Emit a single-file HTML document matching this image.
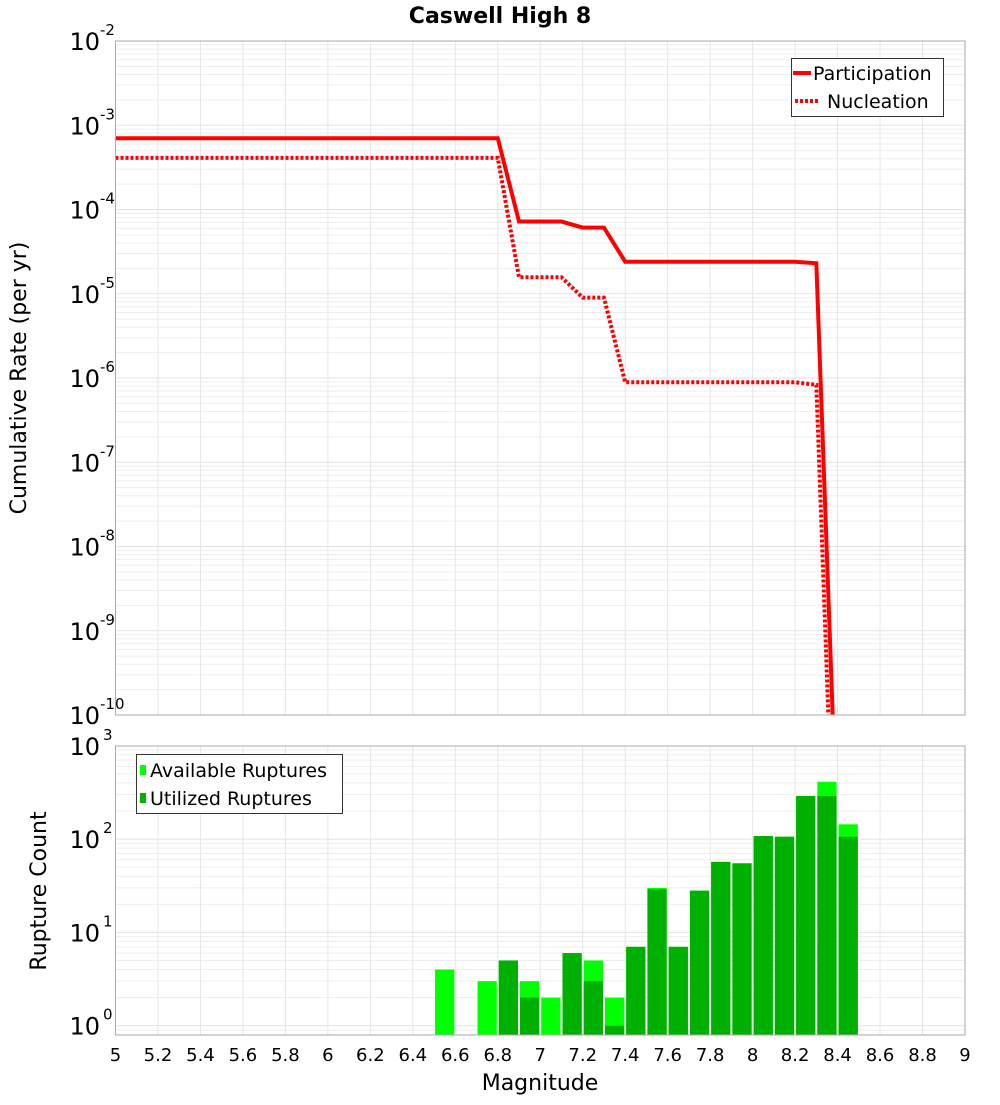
<!DOCTYPE html>
<html><head><meta charset="utf-8"><style>
body{margin:0;background:#fff;}
svg{font-family:"DejaVu Sans","Liberation Sans",sans-serif;}
</style></head><body>
<svg id="c" width="1000" height="1100" xmlns="http://www.w3.org/2000/svg">
<text x="500" y="23" text-anchor="middle" font-size="22" font-weight="bold">Caswell High 8</text>
<text transform="translate(26,378) rotate(-90)" text-anchor="middle" font-size="22">Cumulative Rate (per yr)</text>
<text transform="translate(46,891) rotate(-90)" text-anchor="middle" font-size="22">Rupture Count</text>
<text x="540" y="1090" text-anchor="middle" font-size="22">Magnitude</text>
<g id="topg"></g><g id="botg"></g>
</svg>
<script>
const partMags=[5,6.8,6.9,7.1,7.2,7.3,7.4,8.2,8.3,8.4];
const partVals=[7e-4,7e-4,7.2e-5,7.2e-5,6.1e-5,6.1e-5,2.4e-5,2.4e-5,2.3e-5,2.5e-12];
const nuclMags=[5,6.8,6.9,7.1,7.2,7.3,7.4,8.2,8.3,8.4];
const nuclVals=[4.1e-4,4.1e-4,1.57e-5,1.57e-5,9e-6,9e-6,8.9e-7,8.9e-7,8.3e-7,1e-13];
const binMags=[6.5,6.6,6.7,6.8,6.9,7.0,7.1,7.2,7.3,7.4,7.5,7.6,7.7,7.8,7.9,8.0,8.1,8.2,8.3,8.4];
const availCounts=[4,0,3,5,3,2,6,5,2,7,30,7,28,57,55,108,106,290,412,144];
const utilCounts=[0,0,0,5,2,0,6,3,1,7,29,7,28,57,55,108,106,290,290,106];
const xTicks=[5,5.2,5.4,5.6,5.8,6,6.2,6.4,6.6,6.8,7,7.2,7.4,7.6,7.8,8,8.2,8.4,8.6,8.8,9];
const xTickLabels=["5","5.2","5.4","5.6","5.8","6","6.2","6.4","6.6","6.8","7","7.2","7.4","7.6","7.8","8","8.2","8.4","8.6","8.8","9"];
const topExps=[-2,-3,-4,-5,-6,-7,-8,-9,-10];
const botExps=[3,2,1,0];

const NS="http://www.w3.org/2000/svg";
const L=115.5,R=965;
const X=m=>L+(m-5)*(R-L)/4;
const TT=41,TB=715;
const YT=v=>TT+(-2-Math.log10(v))*(TB-TT)/8;
const BT=746,BB=1035;
const dec=93.3,zero=1025.7;
const YB=v=>zero-Math.log10(Math.max(v,1e-3))*dec;
function el(p,t,a){const e=document.createElementNS(NS,t);for(const k in a)e.setAttribute(k,a[k]);p.appendChild(e);return e;}
const topG=document.getElementById('topg'),botG=document.getElementById('botg');

function grid(g,yf,lo,hi,yT,yB){
  for(let e=lo;e<hi;e++)for(let k=1;k<10;k++){const y=yf(k*Math.pow(10,e));if(y<yT-0.5||y>yB+0.5)continue;
    const ln=el(g,'line',{x1:L,x2:R,y1:y,y2:y,stroke:k==1?'#e2e2e2':'#ededed','stroke-width':1});
    
    }
  xTicks.forEach(m=>{const ln=el(g,'line',{x1:X(m),x2:X(m),y1:yT,y2:yB,stroke:'#e6e6e6','stroke-width':1});
    
    });
}
grid(topG,YT,-10,-2,TT,TB);
const clipT=el(topG,'clipPath',{id:'ct'});el(clipT,'rect',{x:L,y:TT,width:R-L,height:TB-TT});
const pp=el(topG,'polyline',{points:partMags.map((m,i)=>X(m)+','+YT(partVals[i])).join(' '),fill:'none',stroke:'#ff0000','stroke-width':4,'clip-path':'url(#ct)'});


const np=el(topG,'polyline',{points:nuclMags.map((m,i)=>X(m)+','+YT(nuclVals[i])).join(' '),fill:'none',stroke:'#ff0000','stroke-width':4,'stroke-dasharray':'3,2','clip-path':'url(#ct)'});


const fr=el(topG,'rect',{x:L,y:TT,width:R-L,height:TB-TT,fill:'none',stroke:'#aaa'});


topExps.forEach(e=>{const t=el(topG,'text',{x:100,y:YT(Math.pow(10,e))+9,'text-anchor':'end','font-size':24});t.textContent='10';
  
  
  const s=el(topG,'text',{x:100,y:YT(Math.pow(10,e))-6,'font-size':15});s.textContent=String(e);
  
  });
const lg=el(topG,'g',{});


el(lg,'rect',{x:791.5,y:58.5,width:152,height:58,fill:'#fff',stroke:'#333'});
el(lg,'line',{x1:793,x2:811,y1:73,y2:73,stroke:'#f00','stroke-width':4});
el(lg,'line',{x1:795,x2:820,y1:101,y2:101,stroke:'#f00','stroke-width':4,'stroke-dasharray':'3,2'});
let t1=el(lg,'text',{x:813,y:80,'font-size':19});t1.textContent='Participation';
let t2=el(lg,'text',{x:827,y:108,'font-size':19});t2.textContent='Nucleation';

grid(botG,YB,-1,3,BT,BB);
const w=(R-L)/40;
binMags.forEach((m,i)=>{
  if(availCounts[i]>0){const r=el(botG,'rect',{x:X(m)+1,y:YB(availCounts[i]),width:w-2,height:BB-YB(availCounts[i]),fill:'#00ff00'});
    
    }
  if(utilCounts[i]>0){const r=el(botG,'rect',{x:X(m)+1,y:YB(utilCounts[i]),width:w-2,height:BB-YB(utilCounts[i]),fill:'#00b000'});
    
    }
});
const fb=el(botG,'rect',{x:L,y:BT,width:R-L,height:BB-BT,fill:'none',stroke:'#aaa'});


botExps.forEach(e=>{const y=YB(Math.pow(10,e));const t=el(botG,'text',{x:100,y:y+9,'text-anchor':'end','font-size':24});t.textContent='10';
  
  
  const s=el(botG,'text',{x:103,y:y-6,'font-size':15});s.textContent=String(e);
  
  });
xTicks.forEach((m,i)=>{const t=el(botG,'text',{x:X(m),y:1061,'text-anchor':'middle','font-size':18});t.textContent=xTickLabels[i];
  
  });
const bl=el(botG,'g',{});


el(bl,'rect',{x:136.5,y:754.5,width:206,height:59,fill:'#fff',stroke:'#333'});
el(bl,'rect',{x:140,y:765,width:6,height:10,fill:'#00ff00'});
el(bl,'rect',{x:140,y:793,width:6,height:10,fill:'#00b000'});
let b1=el(bl,'text',{x:150,y:777,'font-size':19});b1.textContent='Available Ruptures';
let b2=el(bl,'text',{x:150,y:805,'font-size':19});b2.textContent='Utilized Ruptures';
</script>
</body></html>
